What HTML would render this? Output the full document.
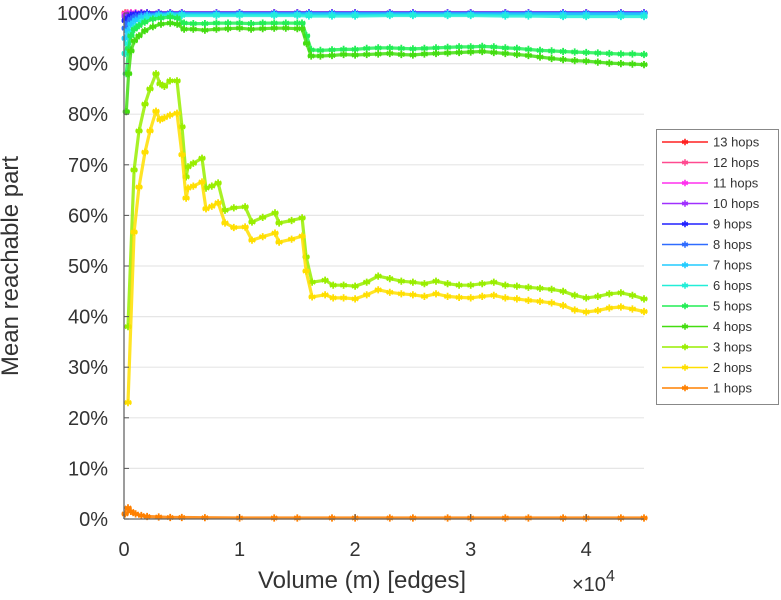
<!DOCTYPE html>
<html><head><meta charset="utf-8"><style>
html,body{margin:0;padding:0;background:#fff;}
svg{display:block;font-family:"Liberation Sans",sans-serif;}
</style></head><body>
<svg id="chart" width="781" height="600" viewBox="0 0 781 600">
<g id="grid"></g>
<g id="series"></g>
<g id="axes"></g>
<text x="18" y="266" transform="rotate(-90 18 266)" text-anchor="middle" font-size="24" fill="#333">Mean reachable part</text>
<text x="362" y="588" text-anchor="middle" font-size="24" fill="#333">Volume (m) [edges]</text>
<text x="572" y="591" font-size="20" fill="#333">×10<tspan dy="-10" font-size="16">4</tspan></text>
<g id="legend"></g>
</svg>
<script>
// ---- data (x in thousands of edges, y in %) ----
const xTicks = [0,1,2,3,4];
const yTicks = [0,10,20,30,40,50,60,70,80,90,100];
const seriesNames = ["13 hops","12 hops","11 hops","10 hops","9 hops","8 hops","7 hops","6 hops","5 hops","4 hops","3 hops","2 hops","1 hops"];
const seriesColors = ["#ff2020","#ff4a90","#ff30ee","#a030ff","#2020ff","#2f6cff","#22ccff","#22eed8","#22ee55","#44dd10","#99ee00","#ffdf00","#ff8000"];

const xMid = [0.35,0.87,1.3,1.82,2.25,2.77,3.12,3.5,3.98,4.59,5.02,5.37,5.54,6.0,6.75,7.1,7.6,8.14,8.74,9.5,10.48,11.08,12,13.07,13.42,14.5,15.41,15.76,16.28,17.4,18.1,19,20,21,22,23,24,25,26,27,28,29,30,31,32,33,34,35,36,37,38,39,40,41,42,43,44,45];
const y3 = [38,69,76.7,82,85,88,86,85.5,86.6,86.6,77.5,67.6,69.6,70.3,71.3,65.4,65.8,66.4,61,61.5,61.7,58.7,59.6,60.5,58.5,59,59.5,51.8,46.8,47.2,46.2,46.2,46,46.8,48,47.5,47,46.8,46.5,47,46.5,46.2,46.2,46.5,46.8,46.2,46,45.8,45.6,45.4,45,44.2,43.7,44,44.5,44.7,44.2,43.5];
const y2 = [23,56.7,65.6,72.5,76.7,80.6,78.9,79.3,79.8,80.2,72,63.4,65.4,65.8,66.6,61.3,61.8,62.5,58.5,57.6,57.7,55.1,55.8,56.5,54.7,55.3,55.9,49,43.9,44.3,43.7,43.7,43.5,44.3,45.3,44.8,44.5,44.3,44,44.5,44,43.8,43.7,44,44.2,43.7,43.5,43.2,43,42.7,42.2,41.3,40.9,41.2,41.7,41.9,41.5,41];

const xGreen = [0.2,0.4,0.6,0.9,1.3,1.8,2.5,3.2,4,4.6,5.2,6,7,8,9,10,11,12,13,14,15,15.4,15.8,16.2,17,18,19,20,21,22,23,24,25,26,27,28,29,30,31,32,33,34,35,36,37,38,39,40,41,42,43,44,45];
const y4 = [80.5,88,92.5,94.5,95.5,96.5,97.3,97.8,98,97.8,96.8,96.8,96.6,96.8,96.9,97,96.8,96.9,97,97,96.9,96.9,94,91.5,91.5,91.6,91.8,91.7,91.8,91.9,92,91.8,91.7,91.9,92,92.1,92.2,92.3,92.4,92.2,92,91.8,91.6,91.3,91,90.8,90.6,90.5,90.3,90.1,90,89.9,89.8];
const y5 = [88,93,95.5,96.8,97.5,98.2,98.8,99,99.2,99,98,97.9,97.9,98,98,98,97.9,98,98,98,98,98,95.5,92.7,92.6,92.7,92.8,92.8,93,93.1,93.1,93,92.9,93,93.1,93.2,93.3,93.3,93.4,93.3,93.1,93,92.8,92.6,92.5,92.4,92.3,92.2,92.1,92,91.9,91.9,91.8];

const xHi = [0.1,0.3,0.6,1,1.5,2,3,4,5,8,10,13,15,16,18,20,23,25,28,30,33,35,38,40,43,45];
const y6 = [92,94,96,97.3,98.3,99,99.4,99.6,99.5,99.5,99.5,99.5,99.5,99.4,99.4,99.4,99.5,99.5,99.5,99.5,99.4,99.4,99.3,99.3,99.3,99.3];
const y7 = [95,96.5,97.8,98.6,99.2,99.5,99.7,99.8,99.8,99.8,99.8,99.8,99.8,99.8,99.8,99.8,99.8,99.8,99.8,99.8,99.8,99.8,99.8,99.8,99.8,99.8];
const y8 = [97,98,98.8,99.3,99.6,99.8,99.9,99.9,99.9,99.9,99.9,99.9,99.9,99.9,99.9,99.9,99.9,99.9,99.9,99.9,99.9,99.9,99.9,99.9,99.9,99.9];
const y9 = [98.5,99,99.5,99.8,99.9,100,100,100,100,100,100,100,100,100,100,100,100,100,100,100,100,100,100,100,100,100];
const y10 = [99.3,99.6,99.8,99.9,100,100,100,100,100,100,100,100,100,100,100,100,100,100,100,100,100,100,100,100,100,100];
const y11 = [99.7,99.9,100,100,100,100,100,100,100,100,100,100,100,100,100,100,100,100,100,100,100,100,100,100,100,100];
const y12 = [99.9,100,100,100,100,100,100,100,100,100,100,100,100,100,100,100,100,100,100,100,100,100,100,100,100,100];
const y13 = [100,100,100,100,100,100,100,100,100,100,100,100,100,100,100,100,100,100,100,100,100,100,100,100,100,100];

const x1 = [0.1,0.35,0.6,1,1.5,2,3,4,5,7,10,13,15,18,20,23,25,28,30,33,35,38,40,43,45];
const y1 = [1,2.2,1.5,1,0.7,0.5,0.4,0.3,0.3,0.25,0.2,0.2,0.2,0.2,0.2,0.2,0.2,0.2,0.2,0.2,0.2,0.2,0.2,0.2,0.2];

// ---- layout ----
const X0=124, X1=644, Y0=519, Y1=13, XMAX=45;
function sx(v){return X0+(v/XMAX)*(X1-X0);}
function sy(v){return Y0-(v/100)*(Y0-Y1);}
const NS="http://www.w3.org/2000/svg";
function mk(tag,attrs,parent){const e=document.createElementNS(NS,tag);for(const k in attrs)e.setAttribute(k,attrs[k]);parent.appendChild(e);return e;}

const grid=document.getElementById('grid');
yTicks.forEach(t=>{ if(t>0){
  const l=mk('line',{x1:X0,x2:X1,y1:sy(t),y2:sy(t),stroke:'#e6e6e6','stroke-width':1.2},grid);
  
  
}});

function starPath(cx,cy,r){
  let d='';
  for(let a=0;a<3;a++){const an=a*Math.PI/3+Math.PI/2;const dx=r*Math.cos(an),dy=r*Math.sin(an);
    d+=`M${(cx-dx).toFixed(1)},${(cy-dy).toFixed(1)}L${(cx+dx).toFixed(1)},${(cy+dy).toFixed(1)}`;}
  d+=`M${cx-r},${cy}L${cx+r},${cy}`;
  return d;
}
const seriesG=document.getElementById('series');
const seriesData=[
  [xHi,y13],[xHi,y12],[xHi,y11],[xHi,y10],[xHi,y9],[xHi,y8],[xHi,y7],[xHi,y6],
  [xGreen,y5],[xGreen,y4],[xMid,y3],[xMid,y2],[x1,y1]
];
// high hops drawn first (underneath), low hops on top
for(let i=0;i<seriesData.length;i++){
  const [xs,ys]=seriesData[i];const col=seriesColors[i];
  const g=mk('g',{},seriesG);
  
  
  const pts=xs.map((x,j)=>sx(x).toFixed(1)+','+sy(ys[j]).toFixed(1)).join(' ');
  mk('polyline',{points:pts,fill:'none',stroke:col,'stroke-width':3.2,'stroke-linejoin':'round','stroke-opacity':0.85},g);
  let d='';
  xs.forEach((x,j)=>{d+=starPath(sx(x),sy(ys[j]),3.6);});
  const m=mk('path',{d:d,stroke:col,'stroke-width':1.8,fill:'none'},g);
  
  
}

const axes=document.getElementById('axes');
mk('line',{x1:X0,x2:X0,y1:Y1,y2:Y0,stroke:'#666','stroke-width':1.3},axes);
mk('line',{x1:X0,x2:X1,y1:Y0,y2:Y0,stroke:'#666','stroke-width':1.3},axes);
yTicks.forEach(t=>{
  mk('line',{x1:X0,x2:X0+5,y1:sy(t),y2:sy(t),stroke:'#555','stroke-width':1},axes);
  const tx=mk('text',{x:108,y:sy(t)+7,'text-anchor':'end','font-size':20,fill:'#333'},axes);
  tx.textContent=t+'%';
  
  
});
xTicks.forEach(t=>{
  mk('line',{x1:sx(t*10),x2:sx(t*10),y1:Y0,y2:Y0-5,stroke:'#555','stroke-width':1},axes);
  const tx=mk('text',{x:sx(t*10),y:556,'text-anchor':'middle','font-size':20,fill:'#333'},axes);
  tx.textContent=t;
  
  
});

const lg=document.getElementById('legend');
mk('rect',{x:656.5,y:129.5,width:122,height:275,fill:'#fff',stroke:'#888','stroke-width':1},lg);
seriesNames.forEach((n,i)=>{
  const y=142+i*20.5;const col=seriesColors[i];
  const g=mk('g',{},lg);
  
  
  mk('line',{x1:662,x2:708,y1:y,y2:y,stroke:col,'stroke-width':1.5},g);
  mk('path',{d:starPath(685,y,3.2),stroke:col,'stroke-width':1.6},g);
  const t=mk('text',{x:713,y:y+4.5,'font-size':13,fill:'#333'},g);
  t.textContent=n;
});
</script>
</body></html>
